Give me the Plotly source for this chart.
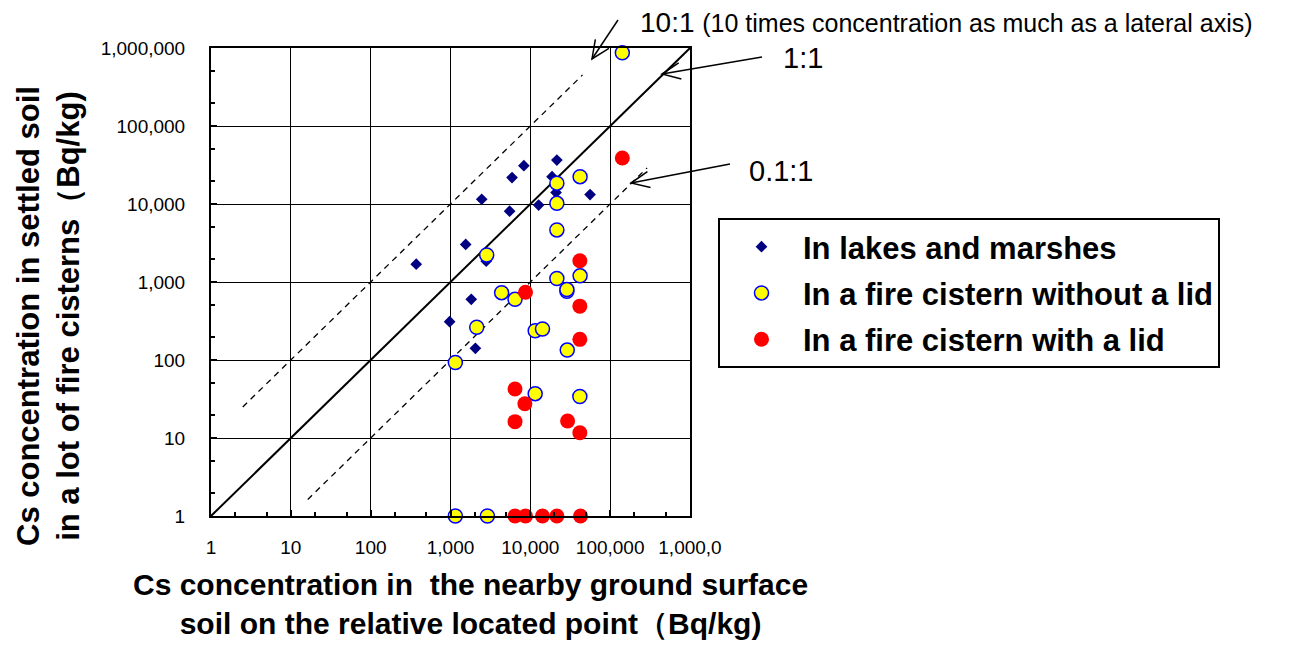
import math
import plotly.graph_objects as go

# Blue diamonds: lakes and marshes
lake_x = [21500, 8300, 5900, 18700, 21000, 56000, 2460, 12700, 5500, 1550, 372, 2800, 1820, 975, 2050]
lake_y = [36600, 31000, 21800, 22400, 14000, 13200, 11500, 9700, 8100, 3030, 1690, 1850, 600, 310, 141]

# Yellow circles: fire cistern without a lid
nolid_x = [142000, 42000, 21500, 21500, 21500, 2840, 21500, 42000, 28700, 28700, 4370, 6430,
           2130, 11500, 14200, 1150, 29000, 11500, 41700, 1150, 2900]
nolid_y = [870000, 22400, 18500, 10200, 4650, 2220, 1110, 1200, 760, 800, 730, 600,
           263, 237, 250, 93, 134, 37, 34, 1, 1]

# Red circles: fire cistern with a lid
lid_x = [142000, 41700, 8700, 41700, 41700, 6430, 8540, 6430, 29300, 41700,
         6430, 8700, 14200, 21500, 42500]
lid_y = [38900, 1870, 740, 490, 184, 42.5, 27.5, 16.2, 16.5, 11.7,
         1, 1, 1, 1, 1]

# Reference ratio lines
one_x = [1, 1000000]
ten_x = [2.5, 45000]
tenth_x = [16.3, 290000]

tick_vals = [1, 10, 100, 1000, 10000, 100000, 1000000]
x_tick_text = ["1", "10", "100", "1,000", "10,000", "100,000", "1,000,0"]
y_tick_text = ["1", "10", "100", "1,000", "10,000", "100,000", "1,000,000"]

FONT = "Liberation Sans, Arial, sans-serif"

# plot area in screen pixels (page has an 8px body margin)
PL, PR, PT, PB = 211, 690, 48, 516
OFF = 8
FIG_W, FIG_H = 1299 - OFF, 645 - OFF


def paper_x(px):
    return (px - PL) / (PR - PL)


def paper_y(py):
    return (PB - py) / (PB - PT)


fig = go.Figure()

fig.add_trace(go.Scatter(x=one_x, y=one_x, mode="lines",
                         line=dict(color="black", width=2), showlegend=False, hoverinfo="skip"))
fig.add_trace(go.Scatter(x=ten_x, y=[v * 10 for v in ten_x], mode="lines",
                         line=dict(color="black", width=1.3, dash="6px,5px"), showlegend=False,
                         hoverinfo="skip"))
fig.add_trace(go.Scatter(x=tenth_x, y=[v * 0.1 for v in tenth_x], mode="lines",
                         line=dict(color="black", width=1.3, dash="6px,5px"), showlegend=False,
                         hoverinfo="skip"))

fig.add_trace(go.Scatter(x=lake_x, y=lake_y, mode="markers", name="<b>In lakes and marshes</b>",
                         legendgroup="a",
                         marker=dict(symbol="diamond", size=9, color="#000080"), cliponaxis=False))
fig.add_trace(go.Scatter(x=nolid_x, y=nolid_y, mode="markers",
                         name="<b>In a fire cistern without a lid</b>", legendgroup="b",
                         marker=dict(symbol="circle", size=14, color="#FFFF00",
                                     line=dict(color="#0000FF", width=1.5)), cliponaxis=False))
fig.add_trace(go.Scatter(x=lid_x, y=lid_y, mode="markers", name="<b>In a fire cistern with a lid</b>",
                         legendgroup="c",
                         marker=dict(symbol="circle", size=15, color="#FF0000"), cliponaxis=False))

axis_common = dict(
    type="log", showgrid=True, gridcolor="black", gridwidth=1.2,
    showline=True, linecolor="black", linewidth=2, mirror=True,
    ticks="inside", ticklen=6, tickcolor="black", tickwidth=1.5,
    minor=dict(ticks="inside", ticklen=4, tickcolor="black", showgrid=False),
    tickvals=tick_vals, zeroline=False,
    tickfont=dict(family=FONT, size=19, color="black"),
)

fig.update_xaxes(**axis_common, range=[0, 6], ticktext=x_tick_text, ticklabelstandoff=13)
fig.update_yaxes(**axis_common, range=[0, 6], ticktext=y_tick_text, ticklabelstandoff=20)

annotations = [
    dict(text="<b>Cs concentration in  the nearby ground surface<br>soil on the relative located point（Bq/kg)</b>",
         x=paper_x(470), y=paper_y(566), xref="paper", yref="paper", xanchor="center", yanchor="top",
         showarrow=False, font=dict(family=FONT, size=30, color="black"), align="center"),
    dict(text="<b>Cs concentration in settled soil<br>in a lot of fire cisterns（Bq/kg)</b>",
         x=paper_x(48), y=paper_y(316), xref="paper", yref="paper", xanchor="center", yanchor="middle",
         textangle=-90, showarrow=False, font=dict(family=FONT, size=31, color="black"), align="center"),
    dict(text="10:1 <span style='font-size:25px'>(10 times concentration as much as a lateral axis)</span>",
         x=paper_x(638), y=paper_y(23), xref="paper", yref="paper", xanchor="left", yanchor="middle",
         showarrow=False, font=dict(family=FONT, size=28, color="black")),
    dict(text="1:1", x=paper_x(781), y=paper_y(58), xref="paper", yref="paper", xanchor="left",
         yanchor="middle", showarrow=False, font=dict(family=FONT, size=29, color="black")),
    dict(text="0.1:1", x=paper_x(747), y=paper_y(171), xref="paper", yref="paper", xanchor="left",
         yanchor="middle", showarrow=False, font=dict(family=FONT, size=29, color="black")),
]

# pointer arrows (tail, tip) in screen pixels, drawn with open V heads
arrows = [((618, 20), (592, 59)), ((762, 57), (662, 74)), ((730, 164), (631, 183))]
shapes = []
for (tx, ty), (hx, hy) in arrows:
    shapes.append(dict(type="line", xref="paper", yref="paper",
                       x0=paper_x(tx), y0=paper_y(ty), x1=paper_x(hx), y1=paper_y(hy),
                       line=dict(color="black", width=1.5)))
    ang = math.atan2(ty - hy, tx - hx)
    pts = []
    for d in (0.42, -0.42):
        pts.append((hx + 20 * math.cos(ang + d), hy + 20 * math.sin(ang + d)))
    path = "M {:.4f},{:.4f} L {:.4f},{:.4f} L {:.4f},{:.4f}".format(
        paper_x(pts[0][0]), paper_y(pts[0][1]), paper_x(hx), paper_y(hy),
        paper_x(pts[1][0]), paper_y(pts[1][1]))
    shapes.append(dict(type="path", xref="paper", yref="paper", path=path,
                       line=dict(color="black", width=1.5)))

fig.update_layout(
    width=FIG_W, height=FIG_H,
    margin=dict(l=PL - OFF, r=FIG_W - (PR - OFF), t=PT - OFF, b=FIG_H - (PB - OFF)),
    paper_bgcolor="white", plot_bgcolor="white",
    font=dict(family=FONT, color="black"),
    annotations=annotations,
    shapes=shapes,
    legend=dict(x=paper_x(718), y=paper_y(218), xanchor="left", yanchor="top",
                bordercolor="black", borderwidth=2, bgcolor="white",
                font=dict(family=FONT, size=31, color="black"),
                tracegroupgap=3, itemwidth=73),
)

fig.write_html("out.html")
